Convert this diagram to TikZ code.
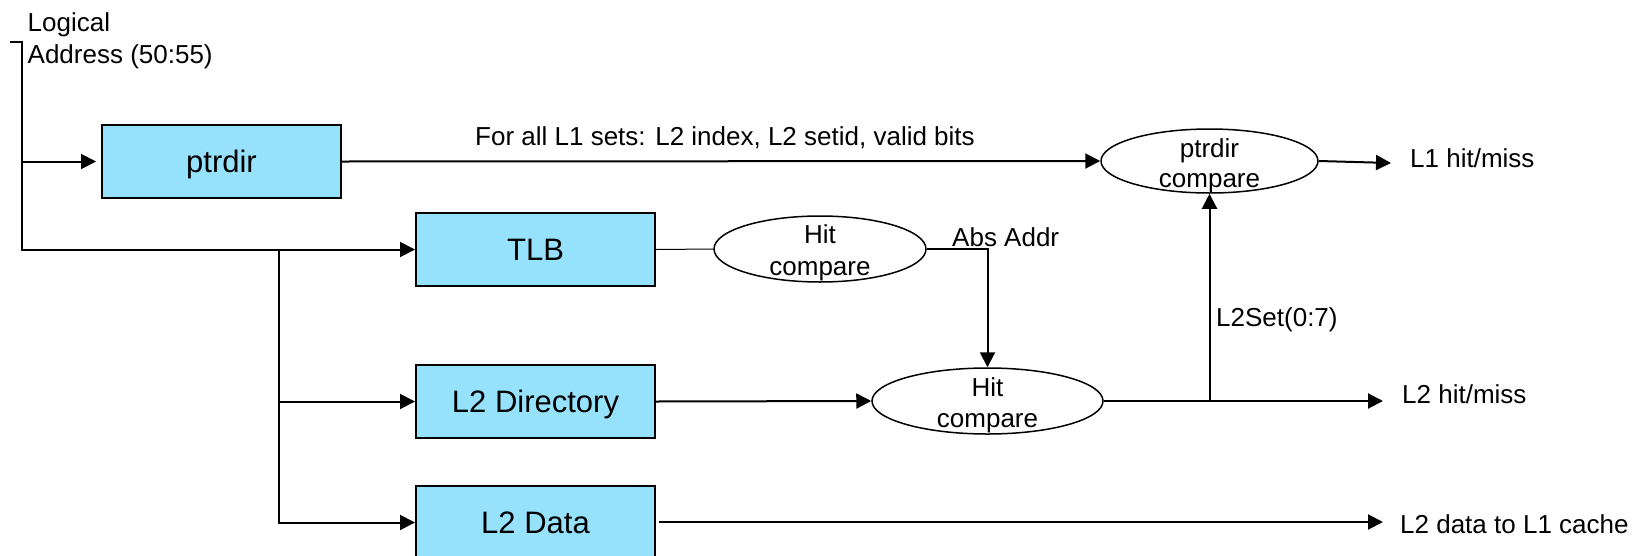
\documentclass[tikz,border=0pt]{standalone}
\usepackage{fontspec}
\setmainfont{Liberation Sans}
\usetikzlibrary{arrows.meta,shapes.geometric}
\definecolor{boxfill}{RGB}{150,226,252}
\begin{document}
\begin{tikzpicture}[x=1pt,y=-1pt,
  unit/.style={draw=black,line width=2pt,fill=boxfill,rectangle,inner sep=0pt,
    minimum width=239pt,minimum height=73pt,text height=22pt,text depth=0pt,
    font=\fontsize{31}{37}\selectfont},
  cmp/.style={draw=black,line width=1.5pt,ellipse,inner sep=0pt},
  lbl/.style={inner sep=0pt,anchor=base,font=\fontsize{26}{31}\selectfont},
  lblw/.style={lbl,anchor=base west},
  wire/.style={line width=2pt,line join=miter},
  arr/.style={wire,-{Triangle[length=15pt,width=15pt]}},
  thinwire/.style={line width=1pt}]
\useasboundingbox (0,0) rectangle (1634,555);
\clip (0,0) rectangle (1634,555);

% storage units
\node[unit] (ptrdir) at (221.5,161.5) {ptrdir};
\node[unit] (tlb)    at (535.5,249.5) {TLB};
\node[unit] (l2dir)  at (535.5,401.5) {L2 Directory};
\node[unit] (l2data) at (535.5,522.5) {L2 Data};

% compare stages
\node[cmp,minimum width=212pt,minimum height=66pt] (hc1) at (820,249) {};
\node[lbl] (hc1a) at (820,243) {Hit};
\node[lbl] (hc1b) at (820,275) {compare};

\node[cmp,minimum width=231pt,minimum height=66pt] (hc2) at (987.5,401) {};
\node[lbl] (hc2a) at (987.5,396) {Hit};
\node[lbl] (hc2b) at (987.5,427) {compare};

\node[cmp,minimum width=217pt,minimum height=64pt] (pc) at (1209.5,161) {};
\node[lbl] (pca) at (1209.5,157) {ptrdir};
\node[lbl] (pcb) at (1209.5,187) {compare};

% input address
\node[lblw] (la1) at (27.5,31) {Logical};
\node[lblw] (la2) at (27.5,63) {Address (50:55)};
\coordinate (in0) at (10,42);
\coordinate (in1) at (22,42);
\coordinate (br)  at (279,249);

\draw[arr] (in0) -- (in1) |- (tlb.west);
\draw[arr,shorten >=5pt] (in1 |- ptrdir.west) -- (ptrdir.west);
\draw[arr] (br) |- (l2dir.west);
\draw[arr] (br) |- (l2data.west);

% ptrdir path
\draw[arr] (ptrdir.east) -- (pc.west);
\node[lblw] (setsinfo) at (475,145) {For all L1 sets: L2 index, L2 setid, valid bits};
\coordinate (l1out) at (1391,163);
\draw[arr] (pc.east) -- (l1out);
\node[lblw] (l1lbl) at (1410,167) {L1 hit/miss};

% TLB path
\draw[thinwire] (tlb.east) -- (hc1.west);
\draw[arr] (hc1.east) -| (hc2.north);
\node[lblw] (abs) at (952,246) {Abs Addr};

% L2 directory path
\draw[arr] (l2dir.east) -- (hc2.west);
\coordinate (l2out) at (1383,401);
\draw[arr] (hc2.east) -- (l2out);
\node[lblw] (l2lbl) at (1402,403) {L2 hit/miss};
\draw[arr] (pc.south |- hc2.east) -- (pc.south);
\node[lblw] (setlbl) at (1216,326) {L2Set(0:7)};

% L2 data path
\coordinate (dout) at (1383,522);
\draw[arr] ([xshift=3pt]l2data.east |- dout) -- (dout);
\node[lblw] (dlbl) at (1400,533) {L2 data to L1 cache};
\end{tikzpicture}
\end{document}
